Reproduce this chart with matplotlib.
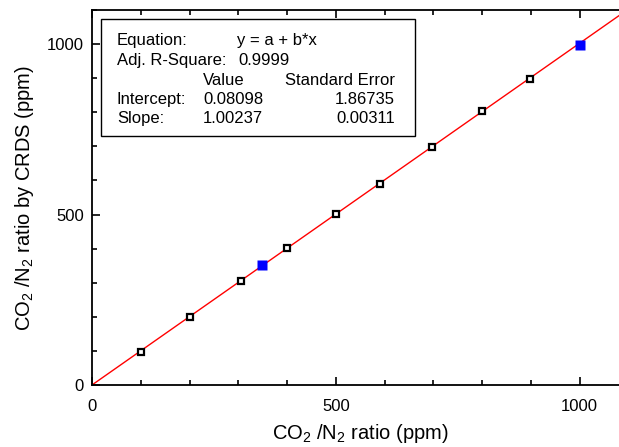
import matplotlib
matplotlib.use('Agg')
import matplotlib.pyplot as plt
from matplotlib.ticker import MultipleLocator
import numpy as np

plt.rcParams['font.family'] = ['Liberation Sans', 'DejaVu Sans']
plt.rcParams['mathtext.fontset'] = 'custom'
plt.rcParams['mathtext.rm'] = 'Liberation Sans'
plt.rcParams['mathtext.it'] = 'Liberation Sans:italic'

# calibration points (open squares)
x_cal = [100, 200, 305, 400, 500, 590, 697, 800, 898]
y_cal = [98, 199, 305, 401, 503, 590, 697, 805, 897]
# highlighted points (blue filled)
x_blue = [348, 1000]
y_blue = [351, 998]

# linear fit y = a + b*x
a_fit = 0.08098
b_fit = 1.00237
a_err = 1.86735
b_err = 0.00311
adj_r2 = 0.9999

W, H = 619, 447
fig = plt.figure(figsize=(W / 100, H / 100), dpi=100)
x0, y0 = 92, 385   # pixel of (0, 0)
xr, yt = 92 + 1100 * 0.4876, 10
ax = fig.add_axes([x0 / W, 1 - y0 / H, (xr - x0) / W, (y0 - yt) / H])

xx = np.array([0, 1100])
ax.plot(xx, a_fit + b_fit * xx, color='red', lw=1, zorder=2)
ax.plot(x_cal, y_cal, ls='none', marker='s', ms=4.1, mfc='white', mec='black', mew=1.6, zorder=3)
ax.plot(x_blue, y_blue, ls='none', marker='s', ms=6.5, mfc='blue', mec='none', zorder=3)

ax.set_xlim(0, 1100)
ax.set_ylim(0, 1100)
for a in (ax.xaxis, ax.yaxis):
    a.set_major_locator(MultipleLocator(500))
    a.set_minor_locator(MultipleLocator(100))
ax.tick_params(which='both', direction='in', top=True, right=True, labelsize=12, width=1.2)
ax.tick_params(which='major', length=6, pad=6)
ax.tick_params(which='minor', length=3.5)
ax.tick_params(axis='x', which='major', pad=10)
for s in ax.spines.values():
    s.set_linewidth(1.3)

ax.set_xlabel(r'CO$_2$ /N$_2$ ratio (ppm)', fontsize=14.5, labelpad=6)
ax.set_ylabel(r'CO$_2$ /N$_2$ ratio by CRDS (ppm)', fontsize=14.5, labelpad=8)

# fit results box
def px(x, y):
    return x / W, 1 - y / H

fig.patches.append(plt.Rectangle(px(101, 136), (415 - 101) / W, (136 - 19) / H,
                                 transform=fig.transFigure, fc='white', ec='black', lw=1, zorder=5))
fs = 12
rows = [45, 65, 85, 104, 123]   # baselines
kw = dict(fontsize=fs, va='baseline', zorder=6)
fig.text(*px(117, rows[0]), 'Equation:', **kw)
fig.text(*px(237, rows[0]), 'y = a + b*x', **kw)
fig.text(*px(117, rows[1]), 'Adj. R-Square:', **kw)
fig.text(*px(238, rows[1]), f'{adj_r2:.4f}', **kw)
fig.text(*px(203, rows[2]), 'Value', **kw)
fig.text(*px(395, rows[2]), 'Standard Error', ha='right', **kw)
fig.text(*px(117, rows[3]), 'Intercept:', **kw)
fig.text(*px(203, rows[3]), f'{a_fit:.5f}', **kw)
fig.text(*px(395, rows[3]), f'{a_err:.5f}', ha='right', **kw)
fig.text(*px(117, rows[4]), 'Slope:', **kw)
fig.text(*px(203, rows[4]), f'{b_fit:.5f}', **kw)
fig.text(*px(395, rows[4]), f'{b_err:.5f}', ha='right', **kw)

fig.savefig('out.png', dpi=100)
